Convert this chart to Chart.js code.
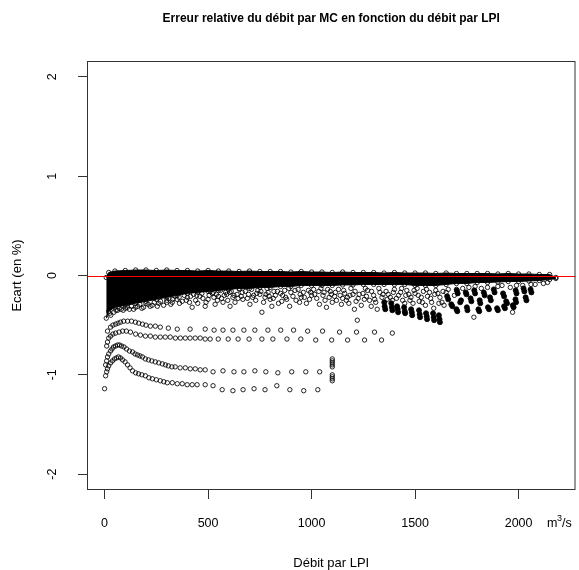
<!DOCTYPE html>
<html>
<head>
<meta charset="utf-8">
<script src="https://cdn.jsdelivr.net/npm/chart.js@4.4.1/dist/chart.umd.min.js"></script>
<style>
  body { margin: 0; background: #fff; }
  canvas { display: block; }
</style>
</head>
<body>
<canvas id="plot" width="579" height="570"></canvas>
<script>
const TITLE = "Erreur relative du débit par MC en fonction du débit par LPI";
const X_TITLE = "Débit par LPI";
const Y_TITLE = "Ecart (en %)";

const xTicks = [0, 500, 1000, 1500, 2000];
const yTicks = [-2, -1, 0, 1, 2];

// dense band: upper and lower edge of the solid black mass
const xBand = [8, 20, 50, 100, 150, 200, 250, 300, 350, 400, 450, 500, 550, 600, 650, 700, 750, 800, 850, 900,
  950, 1000, 1050, 1100, 1150, 1200, 1250, 1300, 1350, 1400, 1450, 1500, 1550, 1600, 1650, 1700, 1750, 1800, 1850, 1900,
  1950, 2000, 2050, 2100, 2150, 2180];
const bandTop = [-0.02, 0.03, 0.045, 0.05, 0.055, 0.055, 0.05, 0.055, 0.05, 0.05, 0.045, 0.05, 0.045, 0.045, 0.04, 0.045, 0.04, 0.04, 0.04, 0.035,
  0.04, 0.035, 0.035, 0.03, 0.035, 0.03, 0.03, 0.03, 0.025, 0.03, 0.025, 0.025, 0.025, 0.02, 0.025, 0.02, 0.02, 0.02, 0.02, 0.015,
  0.02, 0.015, 0.015, 0.01, 0.01, -0.02];
const bandBottom = [-0.43, -0.36, -0.32, -0.30, -0.28, -0.26, -0.24, -0.22, -0.20, -0.18, -0.17, -0.16, -0.15, -0.14, -0.13, -0.13, -0.12, -0.12, -0.11, -0.11,
  -0.10, -0.10, -0.10, -0.10, -0.095, -0.095, -0.09, -0.09, -0.09, -0.09, -0.09, -0.10, -0.10, -0.10, -0.09, -0.08, -0.08, -0.07, -0.07, -0.065,
  -0.06, -0.06, -0.055, -0.05, -0.04, -0.03];

// loose points under the band
const spreadPts = [
  [30, -0.40], [45, -0.37], [63, -0.35], [80, -0.34], [100, -0.33], [120, -0.34], [140, -0.34], [160, -0.31], [188, -0.32], [210, -0.29],
  [230, -0.30], [255, -0.31], [270, -0.26], [300, -0.25], [327, -0.27], [350, -0.24], [375, -0.26], [400, -0.22], [423, -0.32], [440, -0.25],
  [460, -0.21], [486, -0.31], [500, -0.24], [520, -0.18], [534, -0.29], [550, -0.21], [572, -0.27], [585, -0.17], [606, -0.31], [620, -0.22],
  [640, -0.19], [668, -0.24], [680, -0.16], [702, -0.29], [720, -0.20], [740, -0.15], [760, -0.37], [775, -0.22], [790, -0.17], [808, -0.31],
  [825, -0.20], [856, -0.26], [870, -0.15], [894, -0.31], [910, -0.21], [942, -0.27], [960, -0.17], [990, -0.24], [1010, -0.14], [1038, -0.29],
  [1055, -0.20], [1072, -0.32], [1090, -0.16], [1111, -0.21], [1130, -0.14], [1144, -0.29], [1160, -0.18], [1173, -0.22], [1190, -0.13], [1207, -0.34],
  [1221, -0.45], [1230, -0.19], [1255, -0.24], [1270, -0.15], [1288, -0.31], [1300, -0.20], [1317, -0.34], [1330, -0.17], [1360, -0.16], [1380, -0.22],
  [1400, -0.14], [1420, -0.20], [1440, -0.25], [1460, -0.15], [1480, -0.22], [1500, -0.18], [1520, -0.26], [1540, -0.16], [1560, -0.21], [1580, -0.27],
  [1600, -0.15], [1620, -0.22], [1640, -0.30], [1700, -0.14], [1760, -0.12], [1820, -0.13], [1900, -0.11], [1960, -0.12], [2020, -0.10], [2080, -0.09],
  [2120, -0.08], [1784, -0.42], [1971, -0.37]
];
const spreadPts2 = [
  [25, -0.38], [55, -0.35], [70, -0.33], [90, -0.35], [110, -0.32], [130, -0.31], [150, -0.32], [170, -0.29], [180, -0.33], [200, -0.28],
  [220, -0.31], [240, -0.27], [262, -0.28], [285, -0.30], [310, -0.23], [320, -0.29], [340, -0.21], [362, -0.28], [385, -0.20], [410, -0.27],
  [430, -0.19], [450, -0.28], [470, -0.18], [490, -0.27], [510, -0.16], [528, -0.22], [545, -0.25], [560, -0.15], [578, -0.20], [595, -0.25],
  [612, -0.16], [630, -0.27], [652, -0.14], [660, -0.21], [690, -0.23], [710, -0.14], [730, -0.25], [750, -0.19], [768, -0.27], [785, -0.13],
  [800, -0.24], [818, -0.16], [840, -0.28], [850, -0.18], [880, -0.24], [890, -0.13], [925, -0.25], [935, -0.14], [950, -0.22], [975, -0.28],
  [985, -0.15], [1000, -0.20], [1025, -0.23], [1045, -0.13], [1065, -0.25], [1085, -0.22], [1100, -0.27], [1120, -0.25], [1150, -0.23], [1180, -0.28],
  [1200, -0.19], [1215, -0.26], [1240, -0.30], [1260, -0.13], [1280, -0.25], [1310, -0.27], [1340, -0.22], [1370, -0.19], [1390, -0.25], [1430, -0.17],
  [1450, -0.28], [1470, -0.19], [1490, -0.28], [1510, -0.13], [1530, -0.22], [1550, -0.30], [1570, -0.17], [1590, -0.33], [1610, -0.18], [1630, -0.27],
  [1650, -0.17]
];
const spreadPts3 = [
  [300, -0.27], [330, -0.24], [360, -0.22], [395, -0.25], [415, -0.21], [445, -0.20], [475, -0.23], [505, -0.20], [525, -0.17], [540, -0.19],
  [565, -0.23], [590, -0.19], [605, -0.17], [625, -0.20], [645, -0.23], [665, -0.17], [695, -0.19], [715, -0.22], [735, -0.18], [755, -0.16],
  [780, -0.19], [795, -0.21], [815, -0.23], [835, -0.16], [860, -0.20], [875, -0.22], [900, -0.17], [920, -0.15], [945, -0.19], [965, -0.22],
  [995, -0.17], [1015, -0.19], [1035, -0.16], [1060, -0.17], [1078, -0.14], [1095, -0.19], [1115, -0.17], [1138, -0.20], [1155, -0.15], [1168, -0.25],
  [1185, -0.20], [1210, -0.16], [1225, -0.23], [1248, -0.18], [1265, -0.21], [1290, -0.16], [1305, -0.24], [1325, -0.13], [1345, -0.19], [1365, -0.24],
  [1395, -0.17], [1410, -0.23], [1435, -0.13], [1455, -0.20], [1475, -0.25], [1495, -0.15], [1515, -0.20], [1535, -0.27], [1555, -0.14], [1575, -0.23],
  [1595, -0.19], [1615, -0.28], [1635, -0.16], [1660, -0.14], [1690, -0.20], [1730, -0.13], [1790, -0.11], [1850, -0.12], [1920, -0.10], [1990, -0.10],
  [2060, -0.09], [2140, -0.07]
];

// dark smudges (stacked points) between 1350 and 2060
const blobPts = [
  [1351, -0.27], [1353, -0.31], [1356, -0.34], [1385, -0.28], [1388, -0.32], [1390, -0.35], [1413, -0.31], [1416, -0.34], [1418, -0.37],
  [1447, -0.32], [1450, -0.36], [1452, -0.38], [1481, -0.34], [1484, -0.37], [1486, -0.40], [1519, -0.35], [1522, -0.39], [1524, -0.42],
  [1553, -0.38], [1556, -0.41], [1558, -0.44], [1587, -0.38], [1590, -0.42], [1592, -0.45], [1615, -0.40], [1618, -0.44], [1620, -0.47],
  [1655, -0.21], [1660, -0.24], [1675, -0.29], [1680, -0.31],
  [1702, -0.15], [1706, -0.18], [1722, -0.25], [1718, -0.27], [1700, -0.34], [1704, -0.36],
  [1745, -0.17], [1748, -0.19], [1768, -0.23], [1772, -0.26], [1750, -0.32], [1753, -0.35],
  [1786, -0.15], [1790, -0.18], [1812, -0.25], [1815, -0.28], [1806, -0.34], [1810, -0.36],
  [1832, -0.17], [1836, -0.20], [1862, -0.22], [1866, -0.25], [1852, -0.32], [1857, -0.34],
  [1880, -0.14], [1884, -0.17], [1896, -0.33], [1900, -0.35],
  [1925, -0.18], [1930, -0.21], [1940, -0.26], [1944, -0.28], [1930, -0.31], [1934, -0.33],
  [1986, -0.15], [1990, -0.18], [1985, -0.24], [1988, -0.27], [1972, -0.30], [1976, -0.32],
  [2024, -0.13], [2028, -0.16], [2034, -0.22], [2038, -0.25], [2058, -0.14], [2062, -0.17]
];

// the four dotted families below the band
const curveA = [
  [14, -0.56], [29, -0.52], [40, -0.50], [53, -0.49], [65, -0.48], [77, -0.47], [92, -0.46], [111, -0.46], [130, -0.46], [149, -0.47],
  [165, -0.48], [183, -0.49], [200, -0.50], [221, -0.51], [245, -0.51], [269, -0.52], [308, -0.53], [351, -0.54], [413, -0.54], [486, -0.54],
  [529, -0.55], [572, -0.55], [620, -0.55], [673, -0.55], [726, -0.55], [789, -0.55], [851, -0.55], [913, -0.55], [981, -0.56], [1053, -0.56],
  [1135, -0.57], [1217, -0.57], [1304, -0.57], [1390, -0.58]
];
const curveB = [
  [10, -0.71], [14, -0.67], [20, -0.63], [29, -0.61], [40, -0.59], [53, -0.58], [70, -0.57], [87, -0.56], [105, -0.56], [125, -0.57],
  [150, -0.59], [173, -0.60], [197, -0.61], [221, -0.61], [245, -0.62], [269, -0.62], [293, -0.62], [317, -0.62], [342, -0.63], [366, -0.63],
  [390, -0.63], [413, -0.63], [438, -0.63], [462, -0.63], [486, -0.64], [510, -0.64], [549, -0.64], [597, -0.64], [645, -0.64], [698, -0.64],
  [760, -0.64], [813, -0.64], [881, -0.64], [948, -0.64], [1020, -0.65], [1097, -0.65], [1174, -0.65], [1256, -0.65], [1338, -0.65]
];
const curveC = [
  [5, -0.90], [10, -0.86], [14, -0.82], [20, -0.79], [29, -0.76], [36, -0.74], [43, -0.72], [53, -0.71], [63, -0.70], [72, -0.70],
  [82, -0.71], [94, -0.72], [106, -0.74], [120, -0.76], [135, -0.77], [147, -0.79], [159, -0.80], [171, -0.81], [183, -0.82], [197, -0.84],
  [212, -0.85], [228, -0.86], [245, -0.87], [262, -0.88], [279, -0.89], [294, -0.90], [308, -0.91], [325, -0.92], [341, -0.92], [365, -0.93],
  [390, -0.93], [414, -0.94], [438, -0.94], [462, -0.95], [486, -0.95], [524, -0.97], [572, -0.96], [625, -0.97], [673, -0.97], [726, -0.96],
  [779, -0.97], [837, -0.98], [904, -0.97], [972, -0.97], [1039, -0.97]
];
const curveD = [
  [5, -1.01], [10, -0.97], [14, -0.94], [20, -0.91], [29, -0.88], [38, -0.86], [48, -0.84], [58, -0.83], [67, -0.82], [77, -0.83],
  [87, -0.85], [99, -0.87], [111, -0.90], [123, -0.93], [135, -0.96], [150, -0.98], [164, -0.99], [180, -1.00], [197, -1.01], [214, -1.03],
  [231, -1.04], [250, -1.05], [269, -1.06], [286, -1.07], [303, -1.08], [327, -1.08], [351, -1.09], [375, -1.09], [399, -1.10], [423, -1.10],
  [447, -1.10], [486, -1.10], [524, -1.11], [568, -1.15], [620, -1.16], [669, -1.15], [722, -1.14], [775, -1.15], [832, -1.11], [895, -1.15],
  [962, -1.16], [1030, -1.15]
];
const oddPts = [
  [0, -1.14], [1100, -0.84], [1100, -0.86], [1100, -0.88], [1100, -0.90], [1100, -0.92],
  [1100, -1.00], [1100, -1.02], [1100, -1.04], [1100, -1.06]
];

const FONT = "'Liberation Sans', Arial, sans-serif";
const INK = "#000";

const pairs = (list) => list.map(([x, y]) => ({ x, y }));
const bandPts = (ys) => xBand.map((x, i) => ({ x, y: ys[i] }));

const openDot = {
  pointRadius: 2.2,
  pointBorderWidth: 1,
  pointBorderColor: "rgba(0,0,0,0.85)",
  pointBackgroundColor: "rgba(0,0,0,0)",
  pointHoverRadius: 2.2,
};

const frame = {
  id: "frame",
  afterDraw(chart) {
    const { ctx, chartArea: a, scales } = chart;
    const y0 = Math.round(scales.y.getPixelForValue(0)) + 0.5;
    ctx.save();
    ctx.strokeStyle = "#ff0000";
    ctx.lineWidth = 1;
    ctx.beginPath();
    ctx.moveTo(a.left, y0);
    ctx.lineTo(a.right, y0);
    ctx.stroke();

    ctx.strokeStyle = "#333";
    ctx.strokeRect(a.left + 0.5, a.top + 0.5, a.right - a.left - 1, a.bottom - a.top - 1);

    const cx = (a.left + a.right) / 2;
    ctx.fillStyle = INK;
    ctx.textAlign = "center";
    ctx.textBaseline = "alphabetic";

    ctx.font = "bold 12px " + FONT;
    ctx.fillText(TITLE, cx, 22);

    ctx.font = "13px " + FONT;
    ctx.fillText(X_TITLE, cx, 567);

    // y tick labels, written along the axis like R does
    ctx.font = "12.5px " + FONT;
    scales.y.ticks.forEach((t) => {
      const py = scales.y.getPixelForValue(t.value);
      ctx.save();
      ctx.translate(56, py);
      ctx.rotate(-Math.PI / 2);
      ctx.fillText(String(t.value), 0, 0);
      ctx.restore();
    });

    ctx.save();
    ctx.font = "13px " + FONT;
    ctx.translate(21, (a.top + a.bottom) / 2);
    ctx.rotate(-Math.PI / 2);
    ctx.fillText(Y_TITLE, 0, 0);
    ctx.restore();

    // unit after the last x tick
    ctx.textAlign = "left";
    ctx.font = "12.5px " + FONT;
    ctx.fillText("m", 547, 527);
    ctx.font = "9px " + FONT;
    ctx.fillText("3", 557, 521);
    ctx.font = "12.5px " + FONT;
    ctx.fillText("/s", 562, 527);
    ctx.restore();
  },
};

new Chart(document.getElementById("plot"), {
  type: "scatter",
  data: {
    datasets: [
      { type: "line", data: bandPts(bandTop), fill: "+1", backgroundColor: INK, borderColor: INK, borderWidth: 1, tension: 0, ...openDot },
      { type: "line", data: bandPts(bandBottom), fill: false, borderColor: INK, borderWidth: 1, tension: 0, ...openDot },
      { data: pairs(spreadPts), ...openDot },
      { data: pairs(spreadPts2), ...openDot },
      { data: pairs(spreadPts3), ...openDot },
      { data: pairs(blobPts), ...openDot, pointRadius: 2.5, pointBackgroundColor: INK },
      { data: pairs(curveA), ...openDot },
      { data: pairs(curveB), ...openDot },
      { data: pairs(curveC), ...openDot },
      { data: pairs(curveD), ...openDot },
      { data: pairs(oddPts), ...openDot },
    ],
  },
  options: {
    responsive: false,
    animation: false,
    devicePixelRatio: 1,
    layout: { padding: { top: 61, right: 2, left: 0, bottom: 0 } },
    plugins: { legend: { display: false }, tooltip: { enabled: false } },
    scales: {
      x: {
        type: "linear",
        min: -85,
        max: 2275,
        afterBuildTicks: (s) => { s.ticks = xTicks.map((v) => ({ value: v })); },
        afterFit: (s) => { s.height = 80; },
        grid: { drawOnChartArea: false, tickLength: 9, tickColor: "#333", tickWidth: 1 },
        border: { display: false },
        ticks: {
          color: INK, padding: 17, maxRotation: 0,
          font: { family: FONT, size: 12.5 },
          callback: (v) => String(v),
        },
      },
      y: {
        type: "linear",
        min: -2.16,
        max: 2.16,
        afterBuildTicks: (s) => { s.ticks = yTicks.map((v) => ({ value: v })); },
        afterFit: (s) => { s.width = 87; },
        grid: { drawOnChartArea: false, tickLength: 9, tickColor: "#333", tickWidth: 1 },
        border: { display: false },
        ticks: { color: "rgba(0,0,0,0)", font: { family: FONT, size: 12.5 } },
      },
    },
  },
  plugins: [frame],
});
</script>
</body>
</html>
